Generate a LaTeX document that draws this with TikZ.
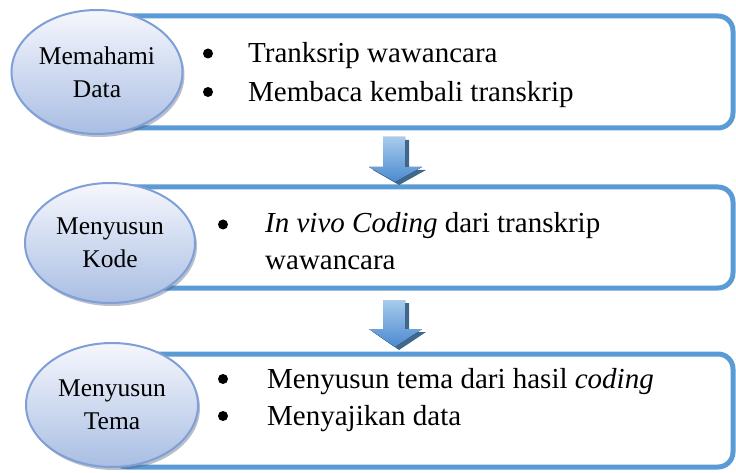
\documentclass[tikz,border=0pt]{standalone}
\usepackage{fontspec}
\setmainfont{Liberation Serif}
\usetikzlibrary{shapes.geometric}
\definecolor{boxblue}{HTML}{5B9BD5}
\definecolor{ellborder}{HTML}{7F9FD6}
\definecolor{elltop}{HTML}{F6F7FD}
\definecolor{ellbot}{HTML}{A9BEE3}
\definecolor{shadowc}{HTML}{4F5F7F}
\definecolor{arrlight}{HTML}{A8CBEC}
\definecolor{arrdark}{HTML}{4A8AD0}
\definecolor{arrshadow}{HTML}{1F4E79}
\tikzset{
  stepbox/.style={draw=boxblue, line width=5pt, rounded corners=15pt, fill=white, inner sep=0pt},
  stage/.style={ellipse, draw=ellborder, line width=2pt, top color=elltop, bottom color=ellbot,
    inner sep=0pt, align=center, font=\fontsize{25.5}{33}\selectfont},
  stageshadow/.style={ellipse, fill=shadowc, opacity=0.4, inner sep=0pt},
  item/.style={anchor=base west, inner sep=0pt, font=\fontsize{29}{36}\selectfont},
  bul/.style={circle, fill=black, inner sep=0pt, minimum size=10pt},
  flowarrow/.style={top color=arrlight, bottom color=arrdark, draw=none},
  flowshadow/.style={fill=arrshadow, opacity=.85},
}
\begin{document}
\begin{tikzpicture}[x=1pt,y=-1pt]
\useasboundingbox (0,0) rectangle (736,473);

% boxes
\node[stepbox, minimum width=633pt, minimum height=112pt] (b1) at (416.5,72) {};
\node[stepbox, minimum width=623pt, minimum height=101pt] (b2) at (421.5,237.5) {};
\node[stepbox, minimum width=621pt, minimum height=113pt] (b3) at (422.5,410.5) {};

% ellipse shadows
\node[stageshadow, minimum width=171pt, minimum height=124pt] (s1) at (99,75) {};
\node[stageshadow, minimum width=170pt, minimum height=120pt] (s2) at (112,246) {};
\node[stageshadow, minimum width=172pt, minimum height=124pt] (s3) at (114,408) {};

% ellipses
\node[stage, minimum width=171pt, minimum height=124pt] (e1) at (97,72) {Memahami\\Data};
\node[stage, minimum width=170pt, minimum height=120pt] (e2) at (110,243) {Menyusun\\Kode};
\node[stage, minimum width=172pt, minimum height=124pt] (e3) at (112,405) {Menyusun\\Tema};

% box 1 text
\node[bul] (p1a) at (208,53.5) {};
\node[item] (t1a) at (248,63) {Tranksrip wawancara};
\node[bul] (p1b) at (208,92) {};
\node[item] (t1b) at (248,102) {Membaca kembali transkrip};

% box 2 text
\node[bul] (p2a) at (223,224.5) {};
\node[item] (t2a) at (265,233) {\textit{In vivo Coding} dari transkrip};
\node[item] (t2b) at (265,269) {wawancara};

% box 3 text
\node[bul] (p3a) at (223,379) {};
\node[item] (t3a) at (267,388) {Menyusun tema dari hasil \textit{coding}};
\node[bul] (p3b) at (223,416) {};
\node[item] (t3b) at (267,425) {Menyajikan data};

% arrows
\fill[flowshadow] (387,140) -- (409,140) -- (409,170) -- (426,170) -- (399,185) -- (373,170) -- (387,170) -- cycle;
\fill[flowarrow] (383,137) -- (405,137) -- (405,167) -- (422,167) -- (395,182) -- (369,167) -- (383,167) -- cycle;

\fill[flowshadow] (387,303) -- (409,303) -- (409,332) -- (426,332) -- (399,350) -- (373,332) -- (387,332) -- cycle;
\fill[flowarrow] (383,300) -- (405,300) -- (405,329) -- (422,329) -- (395,347) -- (369,329) -- (383,329) -- cycle;
\end{tikzpicture}
\end{document}
